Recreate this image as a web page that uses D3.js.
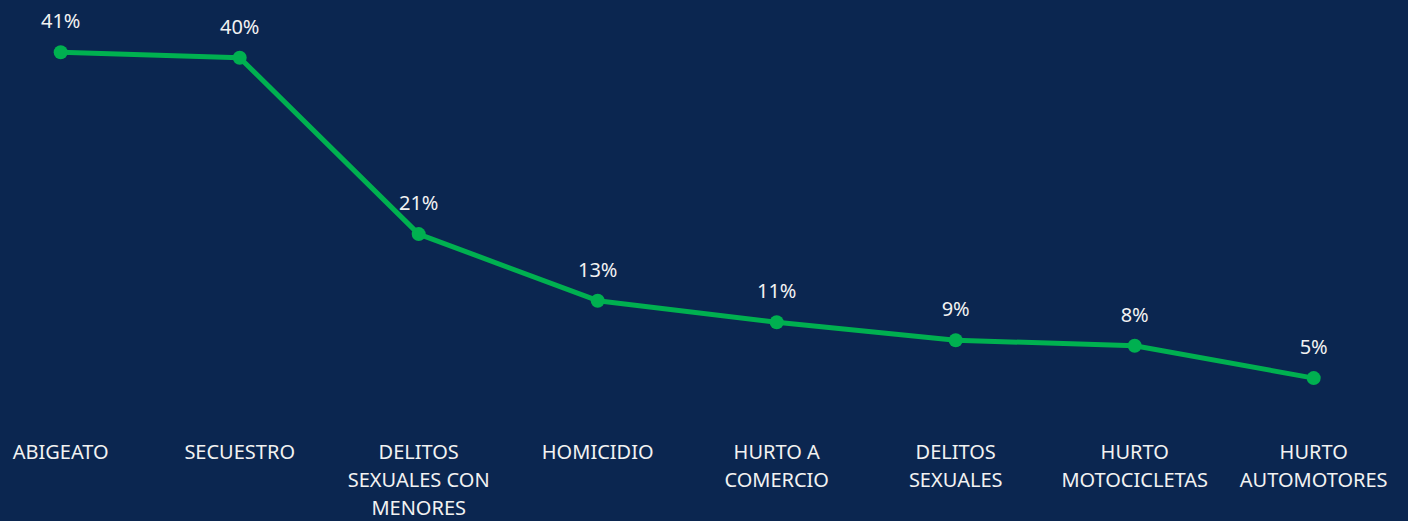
<!DOCTYPE html>
<html>
<head>
<meta charset="utf-8">
<script src="https://cdn.jsdelivr.net/npm/d3@7"></script>
<style>
  html, body { margin: 0; padding: 0; background: #0B2650; }
  svg { display: block; }
  text { font-family: "Noto Sans", "Open Sans", sans-serif; fill: #F2F2F2; }
</style>
</head>
<body>
<script>
// categories and values (share, %)
var categories = ['ABIGEATO', 'SECUESTRO', 'DELITOS SEXUALES CON MENORES', 'HOMICIDIO',
  'HURTO A COMERCIO', 'DELITOS SEXUALES', 'HURTO MOTOCICLETAS', 'HURTO AUTOMOTORES']
var tickLines = [
  ['ABIGEATO'],
  ['SECUESTRO'],
  ['DELITOS', 'SEXUALES CON', 'MENORES'],
  ['HOMICIDIO'],
  ['HURTO A', 'COMERCIO'],
  ['DELITOS', 'SEXUALES'],
  ['HURTO', 'MOTOCICLETAS'],
  ['HURTO', 'AUTOMOTORES']
]
var values = [41.0, 40.4, 20.8, 13.4, 11.0, 9.0, 8.4, 4.8]
var labels = ['41%', '40%', '21%', '13%', '11%', '9%', '8%', '5%']

var width = 1408,
    height = 521

var svg = d3.select('body').append('svg')
    .attr('width', width)
    .attr('height', height)

var x = d3.scalePoint()
    .domain(categories)
    .range([60.7, 1313.7])

var y = d3.scaleLinear()
    .domain([0, 45])
    .range([421.3, 16.3])

var data = categories.map(function(c, i) {
  return { cat: c, value: values[i], label: labels[i], lines: tickLines[i] }
})

var line = d3.line()
    .x(function(d) { return x(d.cat) })
    .y(function(d) { return y(d.value) })

svg.append('path')
    .datum(data)
    .attr('d', line)
    .attr('fill', 'none')
    .attr('stroke', '#00B050')
    .attr('stroke-width', 5)
    .attr('stroke-linejoin', 'round')

svg.selectAll('circle.pt')
    .data(data)
  .enter().append('circle')
    .attr('class', 'pt')
    .attr('cx', function(d) { return x(d.cat) })
    .attr('cy', function(d) { return y(d.value) })
    .attr('r', 7)
    .attr('fill', '#00B050')

svg.selectAll('text.val')
    .data(data)
  .enter().append('text')
    .attr('class', 'val')
    .attr('x', function(d) { return x(d.cat) })
    .attr('y', function(d) { return y(d.value) - 24 })
    .attr('text-anchor', 'middle')
    .style('font-size', '20px')
    .text(function(d) { return d.label })

// category axis labels
var ticks = svg.selectAll('text.cat')
    .data(data)
  .enter().append('text')
    .attr('class', 'cat')
    .attr('text-anchor', 'middle')
    .style('font-size', '20px')

ticks.selectAll('tspan')
    .data(function(d) { return d.lines.map(function(l) { return { l: l, x: x(d.cat) } }) })
  .enter().append('tspan')
    .attr('x', function(d) { return d.x })
    .attr('y', function(d, i) { return 458.5 + i * 28.2 })
    .text(function(d) { return d.l })
</script>
</body>
</html>
